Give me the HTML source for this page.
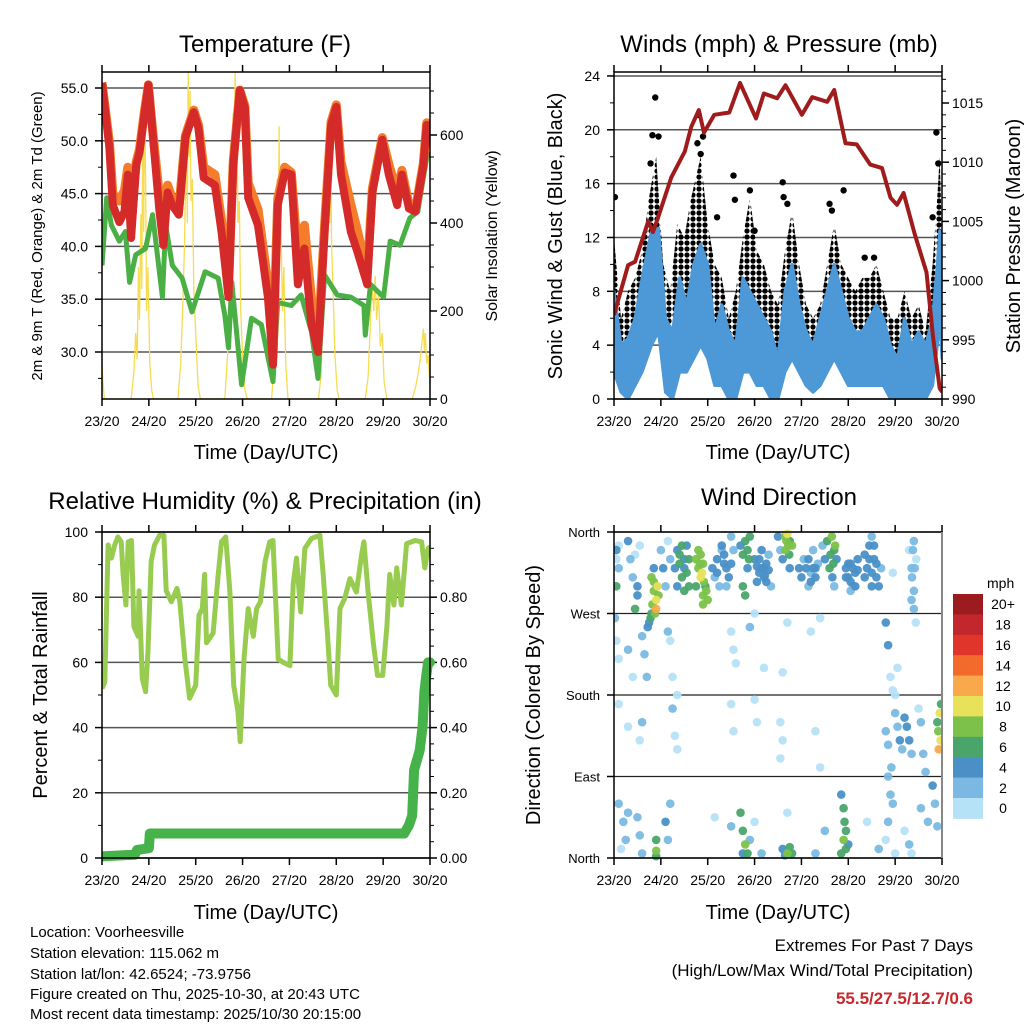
<!DOCTYPE html>
<html><head><meta charset="utf-8"><style>
html,body{margin:0;padding:0;background:#fff;}
svg{display:block;font-family:"Liberation Sans",Arial,sans-serif;}
</style></head><body>
<svg id="fig" width="1024" height="1024" viewBox="0 0 1024 1024" xmlns="http://www.w3.org/2000/svg">
<defs>
<pattern id="dotpat" width="6" height="6" patternUnits="userSpaceOnUse"><circle cx="3" cy="3" r="2.6" fill="#000"/></pattern>
</defs>
<g id="texts" fill="#000">
<text x="265" y="52" font-size="24" text-anchor="middle">Temperature (F)</text>
<text x="779" y="52" font-size="24" text-anchor="middle">Winds (mph) &amp; Pressure (mb)</text>
<text x="265" y="509" font-size="24" text-anchor="middle">Relative Humidity (%) &amp; Precipitation (in)</text>
<text x="779" y="505" font-size="24" text-anchor="middle">Wind Direction</text>
<text transform="translate(42,236) rotate(-90)" font-size="15" text-anchor="middle">2m &amp; 9m T (Red, Orange) &amp; 2m Td (Green)</text>
<text transform="translate(497,236) rotate(-90)" font-size="16" text-anchor="middle">Solar Insolation (Yellow)</text>
<text transform="translate(562,236) rotate(-90)" font-size="20" text-anchor="middle">Sonic Wind &amp; Gust (Blue, Black)</text>
<text transform="translate(1020,236) rotate(-90)" font-size="20" text-anchor="middle">Station Pressure (Maroon)</text>
<text transform="translate(47,695) rotate(-90)" font-size="20" text-anchor="middle">Percent &amp; Total Rainfall</text>
<text transform="translate(540,695) rotate(-90)" font-size="20" text-anchor="middle">Direction (Colored By Speed)</text>
<text x="266" y="459" font-size="20" text-anchor="middle">Time (Day/UTC)</text>
<text x="778" y="459" font-size="20" text-anchor="middle">Time (Day/UTC)</text>
<text x="266" y="919" font-size="20" text-anchor="middle">Time (Day/UTC)</text>
<text x="778" y="919" font-size="20" text-anchor="middle">Time (Day/UTC)</text>
<g font-size="15">
<text x="30" y="937">Location: Voorheesville</text>
<text x="30" y="958">Station elevation: 115.062 m</text>
<text x="30" y="979">Station lat/lon: 42.6524; -73.9756</text>
<text x="30" y="999">Figure created on Thu, 2025-10-30, at 20:43 UTC</text>
<text x="30" y="1019">Most recent data timestamp: 2025/10/30 20:15:00</text>
</g>
<text x="973" y="951" font-size="17" text-anchor="end">Extremes For Past 7 Days</text>
<text x="973" y="976" font-size="17" text-anchor="end">(High/Low/Max Wind/Total Precipitation)</text>
<text x="973" y="1004" font-size="17" font-weight="bold" fill="#c8282d" text-anchor="end">55.5/27.5/12.7/0.6</text>
</g>
<g id="plots"></g>
</svg>
<script>
// ---------- Temperature data ----------
const tempT = [0,0.16,0.23,0.37,0.48,0.55,0.62,0.73,0.80,0.91,0.99,1.08,1.22,1.31,1.40,1.50,1.64,1.78,1.96,2.06,2.17,2.41,2.55,2.70,2.80,2.94,3.05,3.12,3.33,3.54,3.65,3.75,3.90,4.04,4.18,4.32,4.47,4.61,4.75,4.89,5.0,5.1,5.31,5.45,5.66,5.77,5.98,6.12,6.30,6.40,6.55,6.69,6.86,6.93,7.0];
const redT = [55.5,49.3,43.9,42.3,43.3,46.8,40.8,47.7,48.9,52.7,55.3,50.8,43.6,40.1,45.1,43.9,43.0,50.3,52.7,51.2,46.5,45.8,41.4,35.2,47.7,54.8,53.1,44.6,42.0,35.2,28.8,43.9,47.0,46.8,36.4,39.8,32.6,30.0,41.4,51.5,53.2,46.8,41.4,39.5,36.4,45.1,50.1,46.8,43.9,46.8,43.6,43.3,47.7,51.5,50.3];
const orangeT = [55.5,49.8,45.0,44.3,45.3,47.5,42.0,48.0,49.2,52.9,55.3,51.0,45.0,41.6,45.8,44.5,43.5,50.5,52.9,51.5,47.5,46.8,42.5,36.0,48.0,54.8,53.3,46.0,43.5,36.5,29.5,44.5,47.5,47.0,39.0,42.0,35.0,31.0,42.0,51.8,53.4,48.0,44.0,41.5,37.5,45.5,50.3,47.8,45.0,47.2,44.0,43.5,47.9,51.7,50.5];
const dewT = [0,0.1,0.2,0.37,0.5,0.59,0.72,0.93,1.08,1.29,1.36,1.50,1.71,1.92,2.20,2.48,2.62,2.70,2.77,2.98,3.19,3.40,3.65,3.75,4.04,4.25,4.47,4.61,4.75,5.02,5.31,5.59,5.62,5.73,6.01,6.15,6.36,6.57,6.74,6.93,7.0];
const dewV = [38.2,44.6,42.0,40.5,41.4,36.6,39.2,39.8,43.0,35.2,42.0,38.2,37.0,33.8,37.6,37.0,33.5,30.4,36.6,26.9,33.2,32.6,27.2,34.7,34.4,35.4,31.9,27.5,37.3,35.4,35.2,34.4,31.6,36.4,35.2,40.5,40.1,42.7,43.3,48.4,48.9];
const solarT = [0,0.02,0.05, 0.62,0.68,0.72,0.75,0.78,0.8,0.83,0.85,0.87,0.89,0.91,0.93,0.95,0.98,1.02,1.06,1.1, 1.62,1.68,1.72,1.76,1.8,1.82,1.84,1.86,1.88,1.9,1.93,1.96,2.0,2.05,2.1, 2.62,2.68,2.72,2.76,2.8,2.82,2.84,2.86,2.88,2.9,2.93,2.96,3.0,3.05,3.1, 3.62,3.66,3.7,3.72,3.74,3.76,3.78,3.8,3.82,3.85,3.88,3.92,3.97, 4.62,4.68,4.72,4.76,4.8,4.82,4.84,4.86,4.88,4.9,4.93,4.97,5.02,5.06, 5.62,5.68,5.72,5.76,5.8,5.83,5.86,5.9,5.94,5.98,6.02,6.08, 6.62,6.7,6.78,6.82,6.86,6.88,6.9,6.93,6.96,7.0];
const solarV = [80,40,0, 0,60,150,90,300,180,420,250,650,380,690,500,200,300,80,20,0, 0,80,200,350,600,400,743,550,700,450,500,250,150,30,0, 0,100,250,450,650,500,743,600,690,400,450,200,100,20,0, 0,60,300,150,500,250,620,350,400,200,300,80,0, 0,60,300,450,600,500,640,400,550,350,250,100,20,0, 0,50,150,260,200,280,180,240,120,150,40,0, 0,30,80,120,160,110,150,80,100,30];
const tempTicks = [30,35,40,45,50,55];
const tempTickLabels = ["30.0","35.0","40.0","45.0","50.0","55.0"];
const solarTicks = [0,200,400,600];
const dayLabels = ["23/20","24/20","25/20","26/20","27/20","28/20","29/20","30/20"];
// ---------- Wind data ----------
const windT = [0,0.15,0.3,0.45,0.6,0.8,0.95,1.1,1.25,1.4,1.55,1.7,1.85,2.0,2.15,2.3,2.45,2.6,2.75,2.9,3.05,3.2,3.35,3.5,3.65,3.8,3.95,4.1,4.25,4.4,4.55,4.7,4.85,5.0,5.15,5.3,5.45,5.6,5.75,5.9,6.05,6.2,6.35,6.5,6.65,6.8,6.9,6.95,7.0];
const windHi = [8,4,4.5,6,9,12.5,12.7,6,5,9,7,10,11.5,10,5,7,5,4,9,8,7,6,5,3,8,10,7,5,4,6,8,10,8,6,5,5,6,7,6,4,3,6,4,5,4,6,10,12.5,8];
const windLo = [2,0.5,0,1,2,4,5,0.5,0,2,2,3,4,3,1,1,0,0,2,2,1,1,0,0,2,3,2,1,0.5,1,2,3,2,1,1,1,1,1,1,0,0,0,0,0,0,1,4,6,3];
const gustT = [0,0.15,0.3,0.45,0.6,0.75,0.9,1.05,1.2,1.35,1.5,1.65,1.85,2.0,2.15,2.3,2.45,2.6,2.75,2.9,3.05,3.2,3.35,3.5,3.65,3.8,3.95,4.1,4.25,4.4,4.55,4.7,4.85,5.0,5.15,5.3,5.45,5.6,5.75,5.9,6.05,6.2,6.35,6.5,6.65,6.8,6.9,6.95,7.0];
const gustHi = [12,6,8,9,11,15,18,10,8,13,12,15,18,13,10,9,6,8,12,15,11,10,8,7,11,14,10,7,6,7,10,13,10,9,8,9,9,10,8,6,6,8,6,7,5,10,15,18,12];
const gustLo = [4,1,2,3,4,7,8,3,2,4,5,7,8,5,3,2,1,1,3,5,4,3,2,1,3,6,4,2,1,2,4,6,4,3,2,2,3,3,2,1,0,1,1,1,1,3,6,8,5];
const peakT = [0.88,0.82,0.78,0.02,1.81,1.78,1.85,2.55,2.58,3.6,3.62,4.6,4.9,5.35,5.55,6.8,6.88,6.92,2.2,3.0,0.95,1.9,2.9,3.7,4.65];
const peakV = [22.4,19.6,17.5,15.0,21.1,19.0,18.2,16.6,14.8,16.1,15.0,14.5,15.5,10.5,10.5,13.5,19.8,17.5,13.5,12.5,19.5,19.5,15.5,14.5,14.0];
const presT = [0,0.3,0.45,0.73,0.83,0.94,1.22,1.51,1.65,1.81,1.92,2.14,2.46,2.69,3.03,3.2,3.48,3.66,4.01,4.23,4.55,4.7,4.94,5.18,5.47,5.72,5.9,6.04,6.18,6.42,6.67,6.81,6.95,7.0];
const presV = [997.1,1001.3,1001.6,1005,1004.1,1005.3,1008.7,1010.9,1013,1014.4,1012.5,1014,1014.2,1016.7,1013.7,1015.8,1015.4,1016.5,1014,1015.5,1015.1,1016.1,1011.6,1011.5,1009.8,1009.5,1007,1006.4,1007.4,1003.9,1000.7,995.2,990.9,990.6];
const windTicks = [0,4,8,12,16,20,24];
const presTicks = [990,995,1000,1005,1010,1015];
// ---------- Humidity / precip ----------
const rhT = [0,0.06,0.13,0.2,0.27,0.34,0.41,0.45,0.51,0.56,0.63,0.68,0.77,0.79,0.86,0.93,0.98,1.05,1.12,1.23,1.32,1.37,1.48,1.6,1.66,1.77,1.87,2.0,2.07,2.14,2.19,2.23,2.37,2.48,2.55,2.64,2.73,2.81,2.9,2.95,3.03,3.12,3.23,3.3,3.38,3.48,3.58,3.65,3.76,3.87,4.01,4.08,4.15,4.24,4.33,4.47,4.65,4.72,4.81,4.88,5.0,5.08,5.18,5.29,5.43,5.54,5.59,5.68,5.79,5.88,5.99,6.08,6.14,6.23,6.29,6.39,6.5,6.68,6.82,6.89,6.96,7.0];
const rhV = [52,54,96,92,96,98.5,97,87,77.6,97,97.4,71,68,82,55,51,63,91,96,99,99,82,78.6,82.7,78.6,61,49,53,74.5,76.5,87,66,69,87,97,98.5,81.6,53,45,35.7,61,76.5,68,76.5,78.6,91,97,97.4,61,60,59,84,92,75.5,95,98,99,87,69,53,50,76.5,79.6,85.7,81.6,93,97,81.6,66,56,56,71,87,77.6,89,77.6,96.4,97.4,97,89,95,95.4];
const precipT = [0,0.7,0.75,1.0,1.02,6.45,6.55,6.62,6.66,6.72,6.78,6.84,6.88,6.92,6.96,7.0];
const precipV = [0.005,0.01,0.025,0.03,0.075,0.075,0.1,0.13,0.27,0.3,0.33,0.4,0.51,0.56,0.6,0.6];
const rhTicks = [0,20,40,60,80,100];
const precipTickLabels = ["0.00","0.20","0.40","0.60","0.80"];
// ---------- Wind direction ----------
const dirPts = [
[0.05,330,1],[0.05,300,6],[0.05,340,5],[0.1,320,3],[0.1,345,1],[0.02,265,2],
[0.3,350,4],[0.35,330,3],[0.4,310,3],[0.45,335,1],[0.5,300,4],[0.45,275,6],[0.5,290,5],[0.55,345,1],
[0.8,310,8],[0.85,295,9],[0.9,285,11],[0.95,290,8],[0.92,300,6],[0.85,320,5],[0.8,270,6],[0.75,260,5],[0.72,255,4],[0.9,275,12],[0.85,305,9],
[0.82,280,9],[0.88,270,8],[0.93,300,10],[0.78,265,7],
[1.0,340,2],[1.05,320,4],[1.1,300,2],[1.15,350,1],[1.2,330,3],
[1.35,340,5],[1.4,325,6],[1.45,310,6],[1.5,320,4],[1.55,345,5],[1.6,330,6],[1.35,300,4],[1.5,295,6],
[1.4,335,7],[1.45,345,6],[1.5,330,5],[1.55,315,6],[1.6,300,7],[1.3,320,5],
[1.75,330,8],[1.8,320,9],[1.85,310,10],[1.9,325,8],[1.8,340,8],[1.95,300,6],[1.9,290,9],[1.75,300,7],[1.85,335,9],[2.0,285,8],
[1.88,315,10],[1.92,305,9],[1.83,325,8],[1.97,295,9],[1.9,280,8],
[2.1,320,4],[2.15,310,3],[2.2,330,4],[2.25,300,2],[2.3,340,3],[2.35,325,4],[2.2,315,4],
[2.35,335,4],[2.4,320,4],[2.45,310,4],[2.3,345,4],[2.4,300,3],[2.5,325,4],
[2.5,355,3],[2.55,340,2],[2.7,345,4],[2.75,335,6],[2.8,350,7],[2.85,320,5],[2.75,300,6],[2.8,290,6],
[2.85,340,6],[2.9,355,7],[2.88,330,6],
[3.0,330,4],[3.1,315,4],[3.15,320,4],[3.2,310,4],[3.25,325,4],[3.3,335,3],[3.35,300,3],[3.05,305,4],
[3.1,330,4],[3.2,320,4],[3.25,305,4],[3.15,340,4],[3.3,318,4],[3.05,322,4],[3.22,312,4],
[3.5,355,4],[3.55,340,2],[3.65,355,8],[3.7,358,10],[3.75,350,6],[3.8,345,8],[3.6,330,5],[3.75,320,4],
[3.68,350,9],[3.72,345,8],[3.66,340,8],[3.74,335,6],
[3.95,320,4],[4.0,310,5],[4.05,330,3],[4.15,300,2],[4.2,315,3],[4.25,340,2],[4.3,320,4],
[4.1,320,4],[4.15,330,4],[4.2,305,4],[4.25,320,4],[4.3,310,4],[4.35,325,3],
[4.45,345,3],[4.5,330,4],[4.55,350,6],[4.6,320,6],[4.65,355,8],[4.7,340,7],[4.75,330,4],[4.7,300,2],
[4.62,335,6],[4.68,325,7],[4.72,345,8],[4.66,310,5],
[4.95,320,4],[5.0,310,4],[5.05,325,4],[5.1,300,3],[5.15,315,4],[5.2,330,4],
[4.95,310,4],[5.0,325,4],[5.05,305,4],[5.1,320,4],[5.15,300,4],[5.2,318,4],[5.05,295,3],
[5.35,335,4],[5.4,320,4],[5.45,345,4],[5.5,355,3],[5.55,330,5],[5.6,310,4],[5.65,300,4],[5.7,320,3],
[5.45,330,4],[5.5,315,4],[5.55,345,4],[5.6,325,4],[5.5,300,4],[5.35,310,4],
[5.95,315,1],[6.3,340,1],[6.35,320,3],[6.4,350,2],[6.45,330,1],[6.4,295,2],[6.35,285,2],
[6.38,340,2],[6.42,320,2],[6.36,310,2],[6.4,275,2],[6.44,260,1],
[0.05,240,1],[0.1,220,1],[0.3,230,2],[0.4,200,1],[0.6,245,3],[0.65,225,2],[0.7,200,2],[1.15,250,2],[1.2,240,1],[1.25,200,1],[1.35,180,1],[2.5,250,1],[2.55,230,1],[2.6,215,1],[2.9,255,2],[3.0,270,1],[3.2,210,1],[3.7,260,1],[3.6,205,1],[4.2,250,1],[4.4,265,1],[5.8,260,4],[5.85,235,4],[5.9,200,1],[5.95,185,1],[6.05,210,1],[6.0,180,1],
[0.1,170,1],[0.3,145,1],[0.6,150,2],[0.55,130,1],[1.25,165,2],[1.3,135,1],[1.35,120,1],[2.5,170,1],[2.55,140,1],[3.0,175,1],[3.05,150,1],[3.55,150,1],[3.6,130,1],[3.55,110,1],[4.3,140,1],[4.4,100,1],[5.8,140,2],[5.85,125,3],[6.0,160,2],[6.05,145,3],[6.1,130,4],[6.15,120,2],[6.2,155,4],[6.25,145,4],[6.3,130,4],[6.35,115,3],[6.5,165,1],[6.55,150,2],[6.9,150,6],[6.92,140,8],[6.95,160,10],[6.97,130,11],[6.98,170,6],[6.93,120,12],[6.6,115,3],[6.65,95,2],
[5.85,90,2],[5.9,70,2],[5.95,60,3],[5.92,100,2],
[0.1,60,2],[0.2,40,2],[0.25,20,3],[0.3,50,3],[0.15,10,1],[0.5,45,3],[0.55,25,2],[0.6,5,3],[0.9,20,6],[0.9,8,8],[0.9,2,6],[1.1,40,4],[1.15,20,3],[1.2,60,2],[2.15,45,1],[2.5,35,2],[2.7,50,6],[2.75,30,6],[2.8,15,8],[2.85,5,6],[2.75,5,4],[2.9,20,3],[3.0,40,1],[3.15,5,2],[3.6,10,4],[3.7,5,8],[3.75,12,7],[3.8,5,6],[3.65,3,5],[3.7,50,1],[4.3,5,2],[4.5,30,3],[4.85,70,4],[4.9,55,6],[4.92,40,6],[4.95,30,7],[4.9,20,8],[4.95,10,6],[5.0,15,5],[4.85,5,6],[5.4,40,1],[5.65,10,3],[5.8,20,1],[5.85,40,2],[6.0,5,1],[6.2,30,1],[6.3,15,2],[6.35,5,1],[6.55,55,3],[6.7,40,3],[6.8,80,4],[6.85,60,2],[6.9,35,2]
];
const dirTicks = [0,90,180,270,360];
const dirTickLabels = ["North","East","South","West","North"];
const speedLabels = ["0","2","4","6","8","10","12","14","16","18","20+"];
const speedColors = ["#b6e2f8","#7bb9e3","#4a90c7","#4aa56a","#7cc24a","#e8e15a","#f9a94b","#f26a2c","#e0352b","#c1272d","#9b1b1f"];

const NS="http://www.w3.org/2000/svg";
const plots=document.getElementById('plots');
function mk(tag,attrs,parent){const e=document.createElementNS(NS,tag);for(const k in attrs)e.setAttribute(k,attrs[k]);(parent||plots).appendChild(e);return e;}
function txt(x,y,s,size,anchor,parent){const e=mk('text',{x:x,y:y,'font-size':size,'text-anchor':anchor},parent);e.textContent=s;return e;}
function line(xs,ys,f,g){return xs.map((t,i)=>(i?'L':'M')+f.x(t).toFixed(1)+','+g(ys[i]).toFixed(1)).join('');}
function band(xs,hi,lo,fx,fy){let d=xs.map((t,i)=>(i?'L':'M')+fx(t).toFixed(1)+','+fy(hi[i]).toFixed(1)).join('');for(let i=xs.length-1;i>=0;i--)d+='L'+fx(xs[i]).toFixed(1)+','+fy(lo[i]).toFixed(1);return d+'Z';}

function frame(g,X0,X1,Y0,Y1,name){
  for(let d=0;d<=7;d++){const x=X0+(X1-X0)*d/7;
    mk('line',{x1:x,x2:x,y1:Y1,y2:Y1+7,stroke:'#000','stroke-width':1.5},g);
    mk('line',{x1:x,x2:x,y1:Y0,y2:Y0-7,stroke:'#000','stroke-width':1.5},g);
    const l=txt(x,Y1+27,dayLabels[d],14,'middle',g);
    
    
  }
  const r=mk('rect',{x:X0,y:Y0,width:X1-X0,height:Y1-Y0,fill:'none',stroke:'#000','stroke-width':1.5},g);
  
  
}

// ===== Temperature panel =====
(function(){
const g=mk('g',{});


const X0=102,X1=430,Y0=72,Y1=399;
const x=t=>X0+t*(X1-X0)/7;
const y=T=>88+(55-T)*10.56;
const ys=W=>399-W*0.44;
const cp=mk('clipPath',{id:'cpT'},g);mk('rect',{x:X0,y:Y0,width:X1-X0,height:Y1-Y0},cp);
tempTicks.forEach((v,i)=>{const gl=mk('line',{x1:X0,x2:X1,y1:y(v),y2:y(v),stroke:'#555','stroke-width':1.5},g);
  
  
  mk('line',{x1:X0-7,x2:X0,y1:y(v),y2:y(v),stroke:'#000','stroke-width':1.5},g);
  const l=txt(X0-14,y(v)+5,tempTickLabels[i],14,'end',g);
  
  });
for(let v=27.5;v<56;v+=5)mk('line',{x1:X0-4,x2:X0,y1:y(v),y2:y(v),stroke:'#000'},g);
solarTicks.forEach(v=>{mk('line',{x1:X1,x2:X1+7,y1:ys(v),y2:ys(v),stroke:'#000','stroke-width':1.5},g);
  const l=txt(X1+10,ys(v)+5,String(v),14,'start',g);
  
  });
for(let v=50;v<740;v+=50)if(v%200)mk('line',{x1:X1,x2:X1+4,y1:ys(v),y2:ys(v),stroke:'#000'},g);
const c=mk('g',{'clip-path':'url(#cpT)'},g);
const sl=mk('path',{d:line(solarT,solarV,{x:x},ys),fill:'none',stroke:'#f7dc4f','stroke-width':1.3},c);


const dl=mk('path',{d:line(dewT,dewV,{x:x},y),fill:'none',stroke:'#4aaf45','stroke-width':5,'stroke-linejoin':'round'},c);


const ol=mk('path',{d:line(tempT,orangeT,{x:x},y),fill:'none',stroke:'#f47c2a','stroke-width':9,'stroke-linejoin':'round'},c);


const rl=mk('path',{d:line(tempT,redT,{x:x},y),fill:'none',stroke:'#d42a2a','stroke-width':8,'stroke-linejoin':'round'},c);


frame(g,X0,X1,Y0,Y1,'temperature');
})();

// ===== Wind panel =====
(function(){
const g=mk('g',{});


const X0=614,X1=942,Y0=72,Y1=399;
const x=t=>X0+t*(X1-X0)/7;
const y=v=>399-v*13.46;
const yp=p=>399-(p-990)*11.84;
const cp=mk('clipPath',{id:'cpW'},g);mk('rect',{x:X0,y:Y0,width:X1-X0,height:Y1-Y0},cp);
windTicks.forEach(v=>{const gl=mk('line',{x1:X0,x2:X1,y1:y(v),y2:y(v),stroke:'#555','stroke-width':1.5},g);
  
  
  mk('line',{x1:X0-7,x2:X0,y1:y(v),y2:y(v),stroke:'#000','stroke-width':1.5},g);
  const l=txt(X0-14,y(v)+5,String(v),14,'end',g);
  
  });
for(let v=2;v<24;v+=4)mk('line',{x1:X0-4,x2:X0,y1:y(v),y2:y(v),stroke:'#000'},g);
presTicks.forEach(v=>{mk('line',{x1:X1,x2:X1+7,y1:yp(v),y2:yp(v),stroke:'#000','stroke-width':1.5},g);
  const l=txt(X1+10,yp(v)+5,String(v),14,'start',g);
  
  });
for(let v=991;v<1018;v++)if(v%5)mk('line',{x1:X1,x2:X1+4,y1:yp(v),y2:yp(v),stroke:'#000'},g);
const c=mk('g',{'clip-path':'url(#cpW)'},g);
const gb=mk('path',{d:band(gustT,gustHi,gustLo,x,y),fill:'url(#dotpat)',stroke:'none'},c);


peakT.forEach((t,i)=>{const d=mk('circle',{cx:x(t),cy:y(peakV[i]),r:3.2,fill:'#000'},c);
  
  });
const wb=mk('path',{d:band(windT,windHi,windLo,x,y),fill:'#4d98d6',stroke:'#4d98d6','stroke-width':3,'stroke-linejoin':'round'},c);


const pl=mk('path',{d:line(presT,presV,{x:x},yp),fill:'none',stroke:'#a01c1c','stroke-width':4,'stroke-linejoin':'round'},c);


frame(g,X0,X1,Y0,Y1,'wind');
})();

// ===== Humidity panel =====
(function(){
const g=mk('g',{});


const X0=102,X1=430,Y0=532,Y1=858;
const x=t=>X0+t*(X1-X0)/7;
const y=v=>858-v*3.26;
const yp=v=>858-v*326;
const cp=mk('clipPath',{id:'cpH'},g);mk('rect',{x:X0,y:Y0-6,width:X1-X0+6,height:Y1-Y0+12},cp);
rhTicks.forEach(v=>{const gl=mk('line',{x1:X0,x2:X1,y1:y(v),y2:y(v),stroke:'#555','stroke-width':1.5},g);
  
  
  mk('line',{x1:X0-7,x2:X0,y1:y(v),y2:y(v),stroke:'#000','stroke-width':1.5},g);
  const l=txt(X0-14,y(v)+5,String(v),14,'end',g);
  
  });
for(let v=10;v<100;v+=20)mk('line',{x1:X0-4,x2:X0,y1:y(v),y2:y(v),stroke:'#000'},g);
precipTickLabels.forEach((s,i)=>{const v=i*0.2;mk('line',{x1:X1,x2:X1+7,y1:yp(v),y2:yp(v),stroke:'#000','stroke-width':1.5},g);
  const l=txt(X1+10,yp(v)+5,s,14,'start',g);
  
  });
for(let v=0.05;v<1;v+=0.05)mk('line',{x1:X1,x2:X1+4,y1:yp(v),y2:yp(v),stroke:'#000'},g);
const c=mk('g',{'clip-path':'url(#cpH)'},g);
const rl=mk('path',{d:line(rhT,rhV,{x:x},y),fill:'none',stroke:'#98cc50','stroke-width':5,'stroke-linejoin':'round'},c);


const pl=mk('path',{d:line(precipT,precipV,{x:x},yp),fill:'none',stroke:'#46b24a','stroke-width':10,'stroke-linejoin':'round','stroke-linecap':'round'},c);


frame(g,X0,X1,Y0,Y1,'humidity');
})();

// ===== Wind direction panel =====
(function(){
const g=mk('g',{});


const X0=614,X1=942,Y0=532,Y1=858;
const x=t=>X0+t*(X1-X0)/7;
const y=d=>858-d/360*326;
const cp=mk('clipPath',{id:'cpD'},g);mk('rect',{x:X0,y:Y0-4,width:X1-X0,height:Y1-Y0+8},cp);
dirTicks.forEach((v,i)=>{const gl=mk('line',{x1:X0,x2:X1,y1:y(v),y2:y(v),stroke:'#222','stroke-width':1.3},g);
  
  
  mk('line',{x1:X0-7,x2:X0,y1:y(v),y2:y(v),stroke:'#000','stroke-width':1.5},g);
  const l=txt(X0-14,y(v)+5,dirTickLabels[i],13,'end',g);
  
  });
const c=mk('g',{'clip-path':'url(#cpD)'},g);
const sorted=dirPts.slice().sort((a,b)=>a[2]-b[2]);
sorted.forEach(p=>{const bin=Math.min(10,Math.floor(p[2]/2));
  const d=mk('circle',{cx:x(p[0]),cy:y(p[1]),r:4.3,fill:speedColors[bin],'fill-opacity':0.95},c);
  
  });
frame(g,X0,X1,Y0,Y1,'direction');
mk('line',{x1:X1,x2:X1,y1:Y0,y2:Y1,stroke:'#888','stroke-width':2},g);
const cb=mk('g',{},g);


const bh=20.4,by0=594;
const t=txt(987,588,'mph',14,'start',cb);


speedLabels.forEach((s,i)=>{const k=10-i;const yy=by0+i*bh;
  const r=mk('rect',{x:953,y:yy,width:30,height:bh+0.5,fill:speedColors[k]},cb);
  
  
  const l=txt(1003,yy+bh/2+5,speedLabels[k],14,'middle',cb);
  
  });
})();
</script>
</body></html>
